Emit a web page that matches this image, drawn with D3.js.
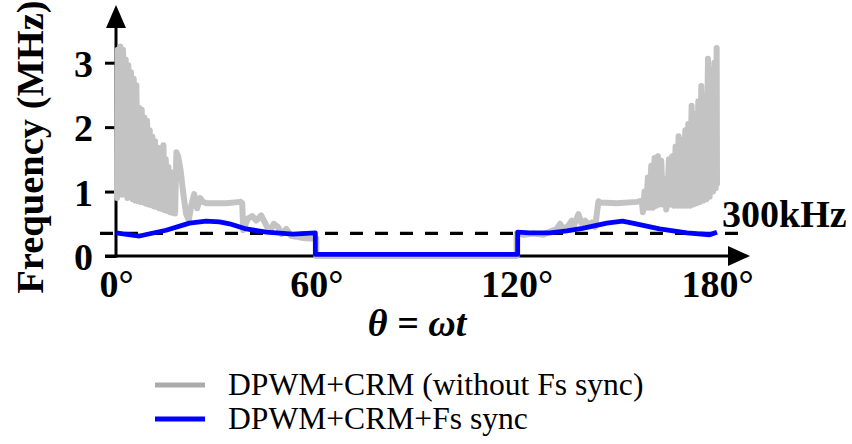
<!DOCTYPE html>
<html>
<head>
<meta charset="utf-8">
<script src="https://cdn.jsdelivr.net/npm/d3@7"></script>
<style>
  body { margin: 0; background: #fff; }
  svg { display: block; font-family: "Liberation Serif", "Times New Roman", serif; }
  .tick line { stroke: #000; stroke-width: 3; }
  .tick text { font-size: 38px; font-weight: bold; fill: #000; }
</style>
</head>
<body>
<div id="chart"></div>
<script>
const WIDTH = 852, HEIGHT = 444;

// axis ticks
const xTicks = [0, 60, 120, 180];
const yTicks = [0, 1, 2, 3];
const refLevel = 0.35;          // 300kHz reference (MHz)
const refSpan = [-4.8, 189];    // degrees covered by the dashed line

// DPWM+CRM without Fs sync: [theta (deg), frequency (MHz)]
const grayLeft = [
  [0.3,0.9],[0.5,3.2],[1.0,1.0],[1.3,3.25],[1.8,0.95],[2.1,3.2],[2.6,1.05],[2.9,3.05],[3.4,0.9],[3.7,2.96],
  [4.2,0.92],[4.5,2.85],[5.0,0.88],[5.3,2.75],[5.8,0.86],[6.1,2.65],[6.6,0.85],[6.9,2.3],[7.4,0.84],[7.7,2.27],
  [8.2,0.83],[8.5,2.15],[9.0,0.81],[9.3,2.1],[9.8,0.8],[10.1,1.95],[10.6,0.79],[10.9,1.85],[11.4,0.77],[11.7,1.78],
  [12.2,0.76],[12.6,1.68],[13.0,0.74],[13.4,1.6],[13.8,0.73],[14.2,1.72],[14.6,0.71],[14.9,1.5],[15.4,0.7],[15.7,1.38],
  [16.2,0.68],[16.5,1.3],[17.0,0.67],[17.3,1.2],[17.7,0.66],[18.1,1.61],[18.6,1.55],[19.3,1.35],[20.2,0.95],[21.0,0.65],
  [21.8,0.56],[22.6,0.8],[23.4,0.96],[24.3,0.74],[25.2,0.9],[26.0,0.84],[27.0,0.82],[33.0,0.82],[37.3,0.84],[37.8,0.82],
  [38.1,0.4],[39.5,0.58],[40.8,0.62],[42.0,0.55],[43.5,0.63],[44.8,0.5],[46.0,0.38],[47.2,0.5],[48.5,0.45],[49.6,0.34],
  [51.0,0.42],[52.5,0.31],[54.0,0.3],[56.0,0.28],[58.0,0.27],[59.8,0.27]
];
const grayGap = [[60,0.27],[60,0],[120,0],[120,0.35]];
const grayRight = [
  [120.3,0.35],[122,0.33],[125,0.35],[128,0.33],[130,0.38],[132,0.42],[133,0.5],[134,0.42],[135.5,0.47],[136.5,0.55],
  [137,0.45],[138.5,0.65],[139.5,0.5],[140.5,0.55],[141.5,0.48],[142.5,0.52],[143.5,0.45],[144.5,0.85],[145,0.83],[150,0.82],
  [156,0.84],[157.5,0.86],[157.8,0.68],[158.3,1.0],[158.8,0.75],[159.3,1.22],[159.8,0.75],[160.3,1.4],[160.8,0.75],[161.3,1.52],
  [161.8,0.78],[162.3,1.55],[162.8,0.8],[163.3,1.48],[163.8,0.8],[164.2,1.2],[164.8,0.72],[165.2,1.0],[165.6,1.5],[166.1,0.8],
  [166.6,1.55],[167.1,0.78],[167.6,1.7],[168.1,0.78],[168.5,1.86],[169.0,0.78],[169.5,1.8],[170.0,0.78],[170.5,1.95],[171.0,0.78],
  [171.4,2.05],[171.9,0.78],[172.4,2.33],[172.9,0.8],[173.4,2.2],[173.9,0.82],[174.4,2.4],[174.9,0.84],[175.3,2.64],[175.8,0.86],
  [176.3,2.5],[176.8,0.88],[177.3,3.06],[177.8,0.92],[178.3,2.9],[178.8,1.0],[179.2,3.0],[179.6,1.05],[179.9,3.23],[180,1.12]
];

// DPWM+CRM+Fs sync
const blueLine = [
  [0,0.36],[7,0.31],[15,0.4],[22,0.51],[27,0.54],[31,0.53],[34,0.5],[39,0.42],[45,0.37],[53,0.34],[59.7,0.36],
  [59.7,0.025],[120.3,0.025],[120.3,0.37],[124,0.36],[130,0.36],[135,0.39],[139.7,0.43],[147,0.51],[151.7,0.54],
  [154.7,0.51],[162.8,0.42],[171,0.36],[177.8,0.33],[180,0.37]
];

const legendItems = ["DPWM+CRM (without Fs sync)", "DPWM+CRM+Fs sync"];
const legendColors = ["#ababab", "#0000ff"];

const x = d3.scaleLinear().domain([0, 180]).range([116, 717]);
const y = d3.scaleLinear().domain([0, 3]).range([256, 62.7]);

const svg = d3.select("#chart").append("svg")
  .attr("width", WIDTH).attr("height", HEIGHT);

// axes lines with arrows
svg.append("line").attr("x1", x(0)).attr("x2", x(0)).attr("y1", y(0) + 1.5).attr("y2", 24)
  .attr("stroke", "#000").attr("stroke-width", 3);
svg.append("path").attr("d", `M${x(0)},5 L${x(0) - 10},28 L${x(0) + 10},28 Z`).attr("fill", "#000");
svg.append("line").attr("x1", 105).attr("x2", 732).attr("y1", y(0)).attr("y2", y(0))
  .attr("stroke", "#000").attr("stroke-width", 3);
svg.append("path").attr("d", `M750,${y(0)} L728,${y(0) - 10} L728,${y(0) + 10} Z`).attr("fill", "#000");

svg.append("g")
  .attr("transform", `translate(${x(0)},0)`)
  .call(d3.axisLeft(y).tickValues(yTicks).tickSize(11).tickPadding(12).tickFormat(d3.format("d")))
  .call(g => g.select(".domain").remove())
  .selectAll("text").attr("dy", "0.36em").style("font-family", "Liberation Serif");

svg.append("g")
  .attr("transform", `translate(0,${y(0)})`)
  .call(d3.axisBottom(x).tickValues(xTicks).tickSize(0).tickFormat(d => d + "°"))
  .call(g => g.select(".domain").remove())
  .selectAll("text").attr("y", 41).attr("dy", 0).style("font-family", "Liberation Serif");

// reference 300kHz line
svg.append("line")
  .attr("x1", x(refSpan[0])).attr("x2", x(refSpan[1]))
  .attr("y1", y(refLevel)).attr("y2", y(refLevel))
  .attr("stroke", "#000").attr("stroke-width", 3.2).attr("stroke-dasharray", "13,12");

const line = d3.line().x(d => x(d[0])).y(d => y(d[1]));

svg.append("path").datum(grayLeft.concat(grayGap, grayRight))
  .attr("d", line).attr("fill", "none")
  .attr("stroke", "#c3c3c3").attr("stroke-width", 6)
  .attr("stroke-linejoin", "round").attr("stroke-linecap", "round");

svg.append("path").datum(blueLine)
  .attr("d", line).attr("fill", "none")
  .attr("stroke", "#0000ff").attr("stroke-width", 4.8)
  .attr("stroke-linejoin", "round");

// texts
svg.append("text")
  .attr("transform", `translate(43,${147}) rotate(-90)`)
  .attr("text-anchor", "middle").attr("font-size", 38.5).attr("font-weight", "bold")
  .text("Frequency (MHz)");

svg.append("text")
  .attr("x", 722).attr("y", 227)
  .attr("font-size", 38).attr("font-weight", "bold")
  .text("300kHz");

svg.append("text")
  .attr("x", 417).attr("y", 336).attr("text-anchor", "middle")
  .attr("font-size", 38).attr("font-weight", "bold").attr("font-style", "italic")
  .text("θ = ωt");

const legend = svg.append("g").attr("transform", "translate(155,385)");
const rows = legend.selectAll("g").data(legendItems).join("g")
  .attr("transform", (_, i) => `translate(0,${i * 34})`);
rows.append("line").attr("x1", 0).attr("x2", 50).attr("y1", 0).attr("y2", 0)
  .attr("stroke", (_, i) => legendColors[i]).attr("stroke-width", 5);
rows.append("text").attr("x", 73).attr("y", 10)
  .attr("font-size", 31.6).text(d => d);
</script>
</body>
</html>
